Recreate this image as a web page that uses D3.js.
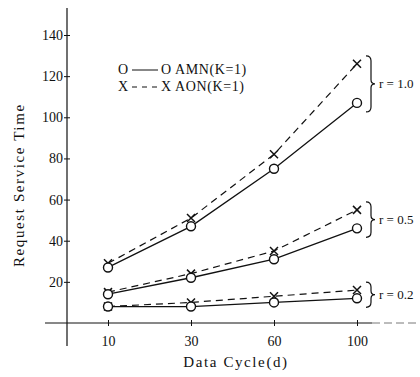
<!DOCTYPE html>
<html>
<head>
<meta charset="utf-8">
<script src="https://cdn.jsdelivr.net/npm/d3@7"></script>
<style>
  body { margin: 0; background: #fff; }
  svg { display: block; font-family: "Liberation Serif", "DejaVu Serif", serif; }
</style>
</head>
<body>
<svg id="chart" width="420" height="377"></svg>
<script>
// Data
const cycles = [10, 30, 60, 100];
const yTicks = [20, 40, 60, 80, 100, 120, 140];

const amnR10 = [27, 47, 75, 107];
const aonR10 = [29, 51, 82, 126];
const amnR05 = [14, 22, 31, 46];
const aonR05 = [15, 24, 35, 55];
const amnR02 = [8, 8, 10, 12];
const aonR02 = [8, 10, 13, 16];

const groups = [
    { label: "r = 1.0", amn: amnR10, aon: aonR10 },
    { label: "r = 0.5", amn: amnR05, aon: aonR05 },
    { label: "r = 0.2", amn: amnR02, aon: aonR02 }
];

const svg = d3.select("#chart");
const ink = "#111";

// Scales
const x = d3.scalePoint().domain(cycles).range([108, 357]);
const y = d3.scaleLinear().domain([0, 140]).range([323, 35]);
const axisX = 67;

// Y axis
const yAxis = svg.append("g")
    .attr("transform", `translate(${axisX},0)`)
    .call(d3.axisLeft(y).tickValues(yTicks).tickSize(3).tickPadding(1));
yAxis.select(".domain").remove();
yAxis.selectAll(".tick line").attr("x1", 3).attr("stroke", ink);
yAxis.selectAll(".tick text")
    .attr("font-size", 14)
    .attr("fill", ink)
    .style("font-family", "Liberation Serif, serif");
svg.append("line")
    .attr("x1", axisX).attr("x2", axisX)
    .attr("y1", 8).attr("y2", 346)
    .attr("stroke", ink).attr("stroke-width", 1.2);

// X axis
const xAxis = svg.append("g")
    .attr("transform", `translate(0,${y(0)})`)
    .call(d3.axisBottom(x).tickSize(3).tickPadding(10));
xAxis.select(".domain").remove();
xAxis.selectAll(".tick line").attr("y1", -3).attr("stroke", ink);
xAxis.selectAll(".tick text")
    .attr("font-size", 14)
    .attr("fill", ink)
    .style("font-family", "Liberation Serif, serif");
svg.append("line")
    .attr("x1", 45).attr("x2", 372)
    .attr("y1", y(0)).attr("y2", y(0))
    .attr("stroke", ink).attr("stroke-width", 1);
svg.append("line")
    .attr("x1", 372).attr("x2", 416)
    .attr("y1", y(0)).attr("y2", y(0))
    .attr("stroke", "#555").attr("stroke-width", 0.8)
    .attr("stroke-dasharray", "8,4");

// Axis titles
svg.append("text")
    .attr("transform", `translate(24,${y(67)}) rotate(-90)`)
    .attr("text-anchor", "middle")
    .attr("font-size", 15)
    .attr("letter-spacing", 1.6)
    .attr("fill", ink)
    .text("Request  Service  Time");
svg.append("text")
    .attr("x", 236).attr("y", 367)
    .attr("text-anchor", "middle")
    .attr("font-size", 15)
    .attr("letter-spacing", 1.6)
    .attr("fill", ink)
    .text("Data  Cycle(d)");

// Lines and markers
const line = d3.line().x((d, i) => x(cycles[i])).y(d => y(d));
const plot = svg.append("g");

function drawCross(g, cx, cy, s) {
    g.append("path")
        .attr("d", `M${cx - s},${cy - s}L${cx + s},${cy + s}M${cx - s},${cy + s}L${cx + s},${cy - s}`)
        .attr("stroke", ink).attr("stroke-width", 1.5).attr("fill", "none");
}

groups.forEach(gr => {
    plot.append("path")
        .datum(gr.aon)
        .attr("d", line)
        .attr("fill", "none")
        .attr("stroke", ink)
        .attr("stroke-width", 1.2)
        .attr("stroke-dasharray", "7,5");
    plot.append("path")
        .datum(gr.amn)
        .attr("d", line)
        .attr("fill", "none")
        .attr("stroke", ink)
        .attr("stroke-width", 1.3);
    gr.aon.forEach((v, i) => drawCross(plot, x(cycles[i]), y(v), 4));
    gr.amn.forEach((v, i) => {
        plot.append("circle")
            .attr("cx", x(cycles[i])).attr("cy", y(v)).attr("r", 4.5)
            .attr("fill", "#fff").attr("stroke", ink).attr("stroke-width", 1.4);
    });

    // Right brace with label
    const top = y(gr.aon[3]) - 8;
    const bot = y(gr.amn[3]) + 9;
    const mid = (top + bot) / 2;
    const bx = 366;
    plot.append("path")
        .attr("d", `M${bx},${top} Q${bx + 5},${top} ${bx + 5},${top + 5} L${bx + 5},${mid - 4} Q${bx + 5},${mid} ${bx + 9},${mid} Q${bx + 5},${mid} ${bx + 5},${mid + 4} L${bx + 5},${bot - 5} Q${bx + 5},${bot} ${bx},${bot}`)
        .attr("fill", "none").attr("stroke", ink).attr("stroke-width", 1.2);
    plot.append("text")
        .attr("x", bx + 13).attr("y", mid + 4)
        .attr("font-size", 13)
        .attr("fill", ink)
        .text(gr.label);
});

// Legend
const legend = svg.append("g").attr("font-size", 14).attr("fill", ink);
const lx = 118;
[
    { y: 74, sym: "O", dash: null, text: "AMN(K=1)" },
    { y: 91, sym: "X", dash: "5,5", text: "AON(K=1)" }
].forEach(r => {
    legend.append("text").attr("x", lx).attr("y", r.y).text(r.sym);
    legend.append("line")
        .attr("x1", lx + 14).attr("x2", lx + 40)
        .attr("y1", r.y - 4).attr("y2", r.y - 4)
        .attr("stroke", ink).attr("stroke-width", 1)
        .attr("stroke-dasharray", r.dash);
    legend.append("text").attr("x", lx + 43).attr("y", r.y)
        .attr("letter-spacing", 0.6)
        .text(r.sym + " " + r.text);
});
</script>
</body>
</html>
